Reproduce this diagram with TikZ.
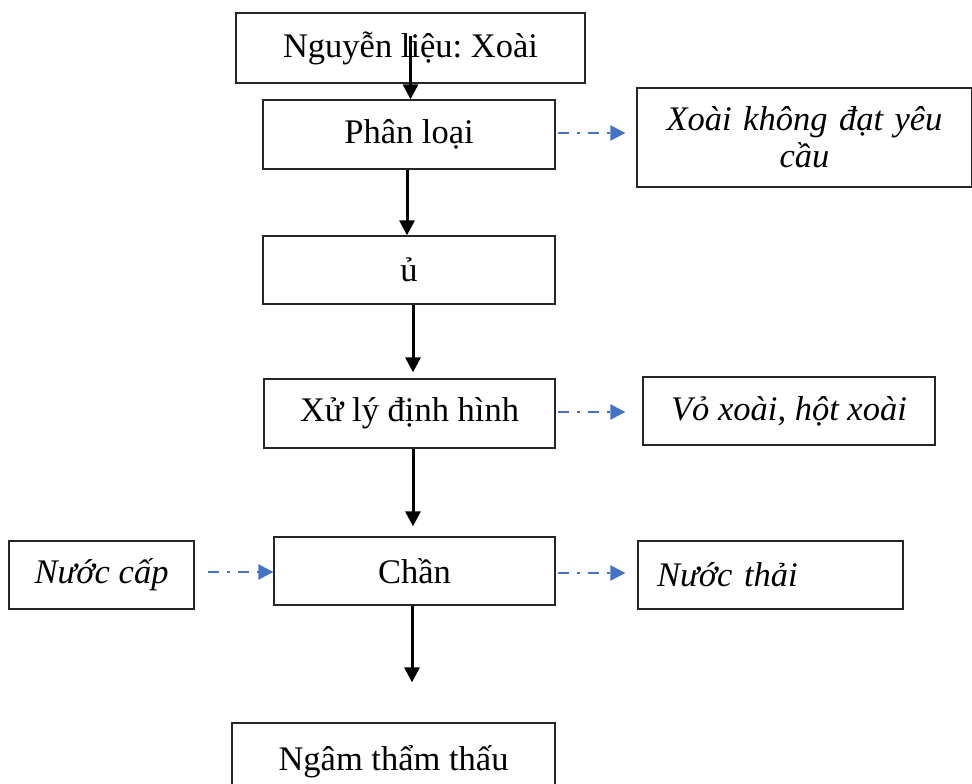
\documentclass[tikz,border=0pt]{standalone}
\usepackage{fontspec}
\setmainfont{Liberation Serif}
\usetikzlibrary{arrows.meta}
\definecolor{flowblue}{RGB}{68,114,196}
\frenchspacing
\begin{document}
\begin{tikzpicture}[x=1pt,y=-1pt,
  box/.style={draw=black!85, line width=1.3pt, inner sep=0pt, align=center,
    font=\fontsize{34.5}{37}\selectfont},
  itbox/.style={box, font=\fontsize{34.5}{37}\selectfont\itshape},
  flow/.style={line width=3pt, -{Triangle[length=15pt,width=15pt]}},
  dflow/.style={flowblue, line width=2.5pt, dash pattern=on 11pt off 8pt on 3pt off 8pt,
    -{Triangle[length=15pt,width=15pt]}}]
\useasboundingbox (0,0) rectangle (972,784);

% main process steps
\node[box, minimum width=349pt, minimum height=70pt] (nguyen) at (410.5,48) {Nguyễn liệu: Xoài};
\node[box, minimum width=292pt, minimum height=69pt] (phan) at (409,134.5) {Phân loại};
\node[box, minimum width=292pt, minimum height=68pt] (u) at (409,270) {ủ};
\node[box, minimum width=291pt, minimum height=69pt] (xuly) at (409.5,413.5) {Xử lý định hình};
\node[box, minimum width=281pt, minimum height=68pt] (chan) at (414.5,571) {Chần};
\node[box, minimum width=323pt, minimum height=77pt] (ngam) at (393.5,761.5) {Ngâm thẩm thấu};

% side inputs and outputs
\node[itbox, minimum width=335pt, minimum height=99pt, text width=300pt] (xoai) at (804.5,137.5) {Xoài không đạt yêu\\cầu};
\node[itbox, minimum width=292pt, minimum height=68pt] (vo) at (789,411) {Vỏ xoài, hột xoài};
\node[itbox, minimum width=185pt, minimum height=68pt] (nuoccap) at (101.5,575) {Nước cấp};
\node[itbox, minimum width=265pt, minimum height=68pt, text width=227pt, align=left] (nuocthai) at (770.5,575) {Nước thải};

% main flow
\draw[flow] ([yshift=12pt]nguyen.center) -- (nguyen.center |- phan.north);
\draw[flow] ([xshift=-2pt]phan.south) -- ([xshift=-2pt]phan.south |- u.north);
\draw[flow, shorten >=6pt] ([xshift=4pt]u.south) -- ([xshift=4pt]u.south |- xuly.north);
\draw[flow, shorten >=10pt] ([xshift=3.5pt]xuly.south) -- ([xshift=3.5pt]xuly.south |- chan.north);
\draw[flow, shorten >=40pt] ([xshift=-2.5pt]chan.south) -- ([xshift=-2.5pt]chan.south |- ngam.north);

% by-products and inputs
\draw[dflow, shorten <=2pt, shorten >=11pt] ([yshift=1.5pt]phan.east) -- ([yshift=1.5pt]phan.east -| xoai.west);
\draw[dflow, shorten <=2pt, shorten >=17pt] ([yshift=1.5pt]xuly.east) -- ([yshift=1.5pt]xuly.east -| vo.west);
\draw[dflow, shorten <=2pt, shorten >=12pt] ([yshift=-2pt]chan.east) -- ([yshift=-2pt]chan.east -| nuocthai.west);
\draw[dflow, shorten <=13pt] ([yshift=3pt]nuoccap.east) -- ([yshift=3pt]nuoccap.east -| chan.west);
\end{tikzpicture}
\end{document}
